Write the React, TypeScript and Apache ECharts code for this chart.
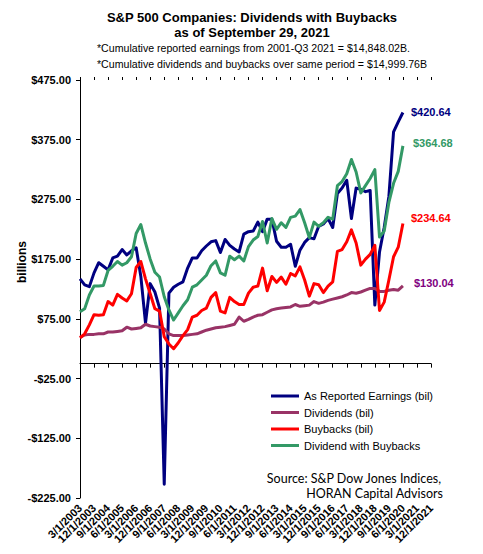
import React, { useEffect, useRef } from "react";
import * as echarts from "echarts";

const categories = [
  "3/1/2003", "6/1/2003", "9/1/2003", "12/1/2003",
  "3/1/2004", "6/1/2004", "9/1/2004", "12/1/2004",
  "3/1/2005", "6/1/2005", "9/1/2005", "12/1/2005",
  "3/1/2006", "6/1/2006", "9/1/2006", "12/1/2006",
  "3/1/2007", "6/1/2007", "9/1/2007", "12/1/2007",
  "3/1/2008", "6/1/2008", "9/1/2008", "12/1/2008",
  "3/1/2009", "6/1/2009", "9/1/2009", "12/1/2009",
  "3/1/2010", "6/1/2010", "9/1/2010", "12/1/2010",
  "3/1/2011", "6/1/2011", "9/1/2011", "12/1/2011",
  "3/1/2012", "6/1/2012", "9/1/2012", "12/1/2012",
  "3/1/2013", "6/1/2013", "9/1/2013", "12/1/2013",
  "3/1/2014", "6/1/2014", "9/1/2014", "12/1/2014",
  "3/1/2015", "6/1/2015", "9/1/2015", "12/1/2015",
  "3/1/2016", "6/1/2016", "9/1/2016", "12/1/2016",
  "3/1/2017", "6/1/2017", "9/1/2017", "12/1/2017",
  "3/1/2018", "6/1/2018", "9/1/2018", "12/1/2018",
  "3/1/2019", "6/1/2019", "9/1/2019", "12/1/2019",
  "3/1/2020", "6/1/2020", "9/1/2020", "12/1/2020",
  "3/1/2021", "6/1/2021", "9/1/2021", "12/1/2021",
];

const earnings = [
  142, 132, 129, 152, 169, 163, 157, 177, 180, 191,
  182, 189, 194, 146, 68, 134, 120, 93, -202, 118,
  128, 133, 137, 160, 177, 177, 189, 197, 204, 206,
  186, 208, 198, 192, 187, 217, 221, 222, 237, 221,
  242, 242, 205, 195, 195, 200, 163, 190, 203, 211,
  209, 230, 234, 243, 228, 285, 294, 307, 243, 294,
  292, 288, 290, 98, 187, 228, 280, 388, 405, 420.64,
];

const dividends = [
  44, 48, 49, 49, 50, 50, 53, 53, 54, 55,
  61, 58, 59, 60, 66, 63, 62, 61, 58, 50,
  47, 47, 47, 48, 49, 50, 53, 56, 58, 60,
  61, 62, 64, 66, 78, 71, 74, 78, 81, 82,
  86, 90, 92, 93, 94, 95, 99, 96, 97, 98,
  104, 101, 103, 106, 108, 110, 112, 115, 119, 118,
  120, 123, 126, 126, 121, 121, 123, 124, 123, 130.04,
];

const buybacks = [
  43, 50, 65, 82, 81, 82, 104, 98, 116, 110,
  105, 117, 161, 171, 142, 117, 92, 88, 45, 33,
  25, 35, 47, 57, 78, 81, 89, 93, 111, 119,
  88, 85, 111, 104, 99, 99, 118, 128, 130, 160,
  122, 146, 136, 145, 133, 151, 147, 162, 140, 113,
  134, 132, 119, 130, 137, 188, 191, 204, 224, 202,
  165, 175, 183, 198, 89, 103, 140, 179, 195, 234.64,
];

const divWithBuybacks = [
  87, 92, 115, 130, 130, 131, 156, 163, 171, 165,
  169, 179, 218, 233, 202, 175, 153, 145, 112, 90,
  73, 85, 97, 107, 128, 132, 140, 148, 164, 172,
  152, 148, 180, 174, 180, 172, 196, 207, 213, 238,
  202, 243, 225, 236, 228, 245, 247, 258, 236, 211,
  237, 230, 236, 245, 242, 298, 305, 318, 342, 321,
  286, 298, 310, 325, 212, 222, 270, 302, 322, 364.68,
];

const seriesNames = [
  "As Reported Earnings (bil)",
  "Dividends (bil)",
  "Buybacks (bil)",
  "Dividend with Buybacks",
];

const titleLines = ["S&P 500 Companies: Dividends with Buybacks", "as of September 29, 2021"];
const noteLines = [
  "*Cumulative reported earnings from 2001-Q3 2021 = $14,848.02B.",
  "*Cumulative dividends and buybacks over same period = $14,999.76B",
];
const sourceLines = ["Source: S&P Dow Jones Indices,", "HORAN Capital Advisors"];

const COLORS = ["#000080", "#993366", "#FF0000", "#339966"];
const LABEL_COLORS = ["#000080", "#339966", "#FF0000", "#800080"];
const ARIAL = "'Liberation Sans', Arial, sans-serif";
const LABEL_EVERY = 3;

const money = (v: number) => (v < 0 ? "-$" : "$") + Math.abs(v).toFixed(2);

export default function App() {
  const ref = useRef<HTMLDivElement>(null);

  useEffect(() => {
    document.body.style.margin = "0";
    if (!ref.current) return;
    const chart = echarts.init(ref.current, null, { renderer: "svg" });

    const mkSeries = (
      name: string,
      data: number[],
      color: string,
      labelColor: string,
      offset: [number, number],
      z: number
    ) => ({
      type: "line",
      name,
      data,
      xAxisIndex: 0,
      yAxisIndex: 0,
      symbol: "none",
      z,
      lineStyle: { color, width: 3, join: "round" },
      itemStyle: { color },
      endLabel: {
        show: true,
        formatter: (p: any) => money(p.value),
        color: labelColor,
        fontFamily: ARIAL,
        fontWeight: "bold",
        fontSize: 11,
        distance: 8,
        offset,
      },
    });

    chart.setOption({
      animation: false,
      backgroundColor: "#ffffff",
      grid: { left: 80, right: 52, top: 80, bottom: 56, containLabel: false },
      legend: {
        orient: "vertical",
        left: 266,
        top: 384,
        icon: "rect",
        itemWidth: 28,
        itemHeight: 3,
        itemGap: 2.5,
        selectedMode: false,
        data: seriesNames,
        textStyle: { fontFamily: ARIAL, fontSize: 11, color: "#000", lineHeight: 14 },
      },
      xAxis: [
        {
          type: "category",
          data: categories,
          boundaryGap: false,
          position: "bottom",
          axisLine: { show: true, onZero: true, lineStyle: { color: "#000", width: 1 } },
          axisTick: { show: true, interval: LABEL_EVERY - 1, length: 4, lineStyle: { color: "#000" } },
          axisLabel: { show: false },
          splitLine: { show: false },
        },
        {
          type: "category",
          data: categories,
          boundaryGap: false,
          position: "top",
          axisLine: { show: false, onZero: true },
          axisTick: { show: true, interval: LABEL_EVERY - 1, length: 3, lineStyle: { color: "#000" } },
          axisLabel: { show: false },
          splitLine: { show: false },
        },
        {
          type: "category",
          data: categories,
          boundaryGap: false,
          position: "bottom",
          axisLine: { show: false, onZero: false },
          axisTick: { show: false },
          axisLabel: {
            show: true,
            interval: 0,
            rotate: 45,
            margin: 8,
            formatter: (v: string, idx: number) => (idx % LABEL_EVERY === 0 ? v : ""),
            color: "#000",
            fontFamily: ARIAL,
            fontWeight: "bold",
            fontSize: 11,
          },
          splitLine: { show: false },
        },
      ],
      yAxis: {
        type: "value",
        min: -225,
        max: 475,
        interval: 100,
        axisLine: { show: true, lineStyle: { color: "#000", width: 1 } },
        axisTick: { show: true, length: 4, lineStyle: { color: "#000" } },
        axisLabel: {
          margin: 9,
          color: "#000",
          fontFamily: ARIAL,
          fontWeight: "bold",
          fontSize: 11,
          formatter: (v: number) => money(v),
        },
        splitLine: { show: false },
      },
      series: [
        mkSeries(seriesNames[0], earnings, COLORS[0], LABEL_COLORS[0], [0, 0], 2),
        mkSeries(seriesNames[1], dividends, COLORS[1], LABEL_COLORS[3], [3, -3], 3),
        mkSeries(seriesNames[2], buybacks, COLORS[2], LABEL_COLORS[2], [0, -6], 4),
        mkSeries(seriesNames[3], divWithBuybacks, COLORS[3], LABEL_COLORS[1], [2, -3], 5),
      ],
      graphic: [
        {
          type: "text",
          x: 252,
          y: 17,
          style: {
            text: titleLines[0],
            fill: "#000",
            font: `bold 13px ${ARIAL}`,
            textAlign: "center",
            textVerticalAlign: "middle",
          },
        },
        {
          type: "text",
          x: 252,
          y: 32.5,
          style: {
            text: titleLines[1],
            fill: "#000",
            font: `bold 13px ${ARIAL}`,
            textAlign: "center",
            textVerticalAlign: "middle",
          },
        },
        {
          type: "text",
          x: 97,
          y: 48,
          style: {
            text: noteLines[0],
            fill: "#000",
            font: `10.6px ${ARIAL}`,
            textAlign: "left",
            textVerticalAlign: "middle",
          },
        },
        {
          type: "text",
          x: 97,
          y: 63.5,
          style: {
            text: noteLines[1],
            fill: "#000",
            font: `10.6px ${ARIAL}`,
            textAlign: "left",
            textVerticalAlign: "middle",
          },
        },
        {
          type: "text",
          x: 22,
          y: 262,
          rotation: Math.PI / 2,
          style: {
            text: "billions",
            fill: "#000",
            font: `bold 12px ${ARIAL}`,
            textAlign: "center",
            textVerticalAlign: "middle",
          },
        },
        {
          type: "text",
          x: 441,
          y: 478,
          style: {
            text: sourceLines[0],
            fill: "#000",
            font: `12.5px Lato, 'Open Sans', sans-serif`,
            textAlign: "right",
            textVerticalAlign: "middle",
          },
        },
        {
          type: "text",
          x: 443,
          y: 493,
          style: {
            text: sourceLines[1],
            fill: "#000",
            font: `12.5px Lato, 'Open Sans', sans-serif`,
            textAlign: "right",
            textVerticalAlign: "middle",
          },
        },
      ],
    });

    return () => chart.dispose();
  }, []);

  return <div ref={ref} style={{ width: 483, height: 554 }} />;
}
